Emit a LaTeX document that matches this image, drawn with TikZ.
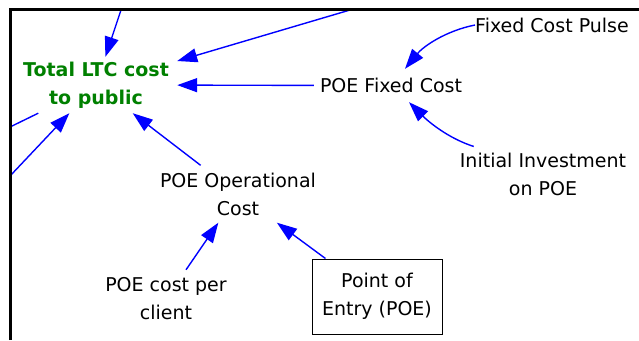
\documentclass[tikz,border=0pt]{standalone}
\usepackage{fontspec}
\setmainfont{DejaVu Sans}
\usetikzlibrary{arrows.meta}
\definecolor{linkblue}{RGB}{0,0,255}
\definecolor{stockgreen}{RGB}{0,128,0}
\tikzset{
  lbl/.style={align=center, font=\fontsize{19}{28}\selectfont, inner sep=0pt, text=black},
  total/.style={lbl, font=\fontsize{19}{28}\selectfont\bfseries, text=stockgreen},
  link/.style={draw=linkblue, line width=1.4pt, -{Triangle[length=20pt,width=14pt]}},
  plainlink/.style={draw=linkblue, line width=1.4pt},
  frame/.style={draw=black, line width=3pt},
  boxed/.style={lbl, draw=black, line width=1pt}
}
\begin{document}
\begin{tikzpicture}[x=1pt,y=-1pt]
\useasboundingbox (0,0) rectangle (639,340);

% variables
\node[total, minimum width=162pt, minimum height=56pt] (tlc) at (96,85) {Total LTC cost\\to public};
\node[lbl, minimum width=154pt, minimum height=33pt] (fc) at (391,85.5) {POE Fixed Cost};
\node[lbl, anchor=west] (pulse) at (475,25) {Fixed Cost Pulse};
\node[lbl] (init) at (543,174) {Initial Investment\\on POE};
\node[lbl, minimum width=160pt, minimum height=57pt] (op) at (238,194) {POE Operational\\Cost};
\node[lbl, minimum height=58pt] (client) at (166,299) {POE cost per\\client};
\node[boxed, minimum width=130pt, minimum height=75pt] (poe) at (377,296.5) {Point of\\Entry (POE)};

% links that leave the frame
\coordinate (inTop) at (121,10);
\coordinate (inTopR) at (350,10);
\coordinate (outLeft) at (10,127);
\coordinate (inLeft) at (10,176);

% links
\draw[link] (inTop) -- (tlc);
\draw[link] (inTopR) -- (tlc);
\draw[plainlink] (tlc) -- (outLeft);
\draw[link] (inLeft) -- (tlc);
\draw[link] (fc) -- (tlc);
\draw[link] (op) -- (tlc);
\draw[link] (pulse.west) .. controls +(-30,6) and +(18,-22) .. ([xshift=14pt]fc.north);
\draw[link] ([xshift=14pt,yshift=6pt]init.north west) .. controls +(-25,-8) and +(20,20) .. ([xshift=18pt]fc.south);
\draw[link] (client) -- (op);
\draw[link] (poe) -- (op);

% frame edges
\draw[frame] (10.5,340) -- (10.5,9.8) -- (639,9.8);
\end{tikzpicture}
\end{document}
